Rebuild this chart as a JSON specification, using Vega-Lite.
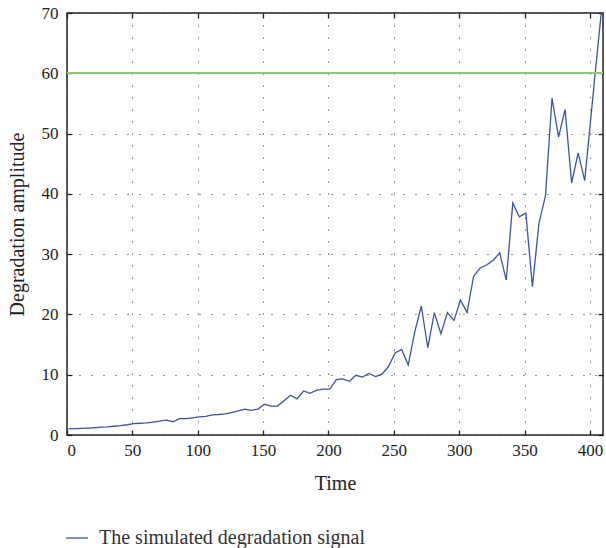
{
  "$schema": "https://vega.github.io/schema/vega-lite/v6.json",
  "autosize": {"type": "none"},
  "width": 536,
  "height": 422,
  "padding": {"left": 67, "top": 13, "right": 3, "bottom": 113},
  "background": "white",
  "config": {
    "view": {"stroke": "#222", "strokeWidth": 1.5},
    "font": "Liberation Serif",
    "axis": {
      "labelFont": "Liberation Serif",
      "titleFont": "Liberation Serif",
      "labelFontSize": 17,
      "titleFontSize": 20,
      "labelColor": "#222",
      "titleColor": "#222",
      "titleFontWeight": "normal",
      "domain": false,
      "tickColor": "#222",
      "tickWidth": 1.3,
      "tickSize": -5,
      "gridColor": "#333",
      "gridDash": [1, 11],
      "gridWidth": 1
    },
    "legend": {
      "labelFont": "Liberation Serif",
      "labelFontSize": 20,
      "labelColor": "#333",
      "labelLimit": 500
    }
  },
  "data": {
    "values": [
      {"t": 1, "v": 1.0}, {"t": 6, "v": 1.05}, {"t": 11, "v": 1.1}, {"t": 16, "v": 1.15},
      {"t": 21, "v": 1.2}, {"t": 26, "v": 1.3}, {"t": 31, "v": 1.35}, {"t": 36, "v": 1.45},
      {"t": 41, "v": 1.55}, {"t": 46, "v": 1.7}, {"t": 51, "v": 1.9}, {"t": 56, "v": 1.95},
      {"t": 61, "v": 2.0}, {"t": 66, "v": 2.15}, {"t": 71, "v": 2.3}, {"t": 76, "v": 2.45},
      {"t": 81, "v": 2.2}, {"t": 86, "v": 2.7}, {"t": 91, "v": 2.7}, {"t": 96, "v": 2.85},
      {"t": 101, "v": 3.0}, {"t": 106, "v": 3.1}, {"t": 111, "v": 3.35}, {"t": 116, "v": 3.4},
      {"t": 121, "v": 3.5}, {"t": 126, "v": 3.7}, {"t": 131, "v": 4.0}, {"t": 136, "v": 4.3},
      {"t": 141, "v": 4.1}, {"t": 146, "v": 4.3}, {"t": 151, "v": 5.1}, {"t": 156, "v": 4.8},
      {"t": 161, "v": 4.8}, {"t": 166, "v": 5.7}, {"t": 171, "v": 6.6}, {"t": 176, "v": 6.0},
      {"t": 181, "v": 7.3}, {"t": 186, "v": 6.9}, {"t": 191, "v": 7.45}, {"t": 196, "v": 7.6},
      {"t": 201, "v": 7.6}, {"t": 206, "v": 9.2}, {"t": 211, "v": 9.3}, {"t": 216, "v": 8.9},
      {"t": 221, "v": 9.9}, {"t": 226, "v": 9.6}, {"t": 231, "v": 10.2}, {"t": 236, "v": 9.7},
      {"t": 241, "v": 10.1}, {"t": 246, "v": 11.4}, {"t": 251, "v": 13.6}, {"t": 256, "v": 14.2},
      {"t": 261, "v": 11.6}, {"t": 266, "v": 17.1}, {"t": 271, "v": 21.4}, {"t": 276, "v": 14.5},
      {"t": 281, "v": 20.3}, {"t": 286, "v": 16.8}, {"t": 291, "v": 20.3}, {"t": 296, "v": 19.0},
      {"t": 301, "v": 22.4}, {"t": 306, "v": 20.3}, {"t": 311, "v": 26.3}, {"t": 316, "v": 27.7},
      {"t": 321, "v": 28.2}, {"t": 326, "v": 29.0}, {"t": 331, "v": 30.2}, {"t": 336, "v": 25.7},
      {"t": 341, "v": 38.5}, {"t": 346, "v": 36.2}, {"t": 351, "v": 36.8}, {"t": 356, "v": 24.6},
      {"t": 361, "v": 35.1}, {"t": 366, "v": 39.7}, {"t": 371, "v": 55.9}, {"t": 376, "v": 49.4},
      {"t": 381, "v": 54.0}, {"t": 386, "v": 41.8}, {"t": 391, "v": 46.8}, {"t": 396, "v": 42.2},
      {"t": 401, "v": 53.3}, {"t": 406, "v": 64.3}, {"t": 411, "v": 75.0}
    ]
  },
  "layer": [
    {
      "layer": [
        {
          "mark": {"type": "line", "clip": true, "strokeWidth": 1.3, "interpolate": "linear"},
          "encoding": {
            "x": {
              "field": "t", "type": "quantitative",
              "scale": {"domain": [0, 410], "nice": false, "zero": false},
              "axis": {"title": "Time", "values": [0, 50, 100, 150, 200, 250, 300, 350, 400], "labelPadding": 12, "titlePadding": 15}
            },
            "y": {
              "field": "v", "type": "quantitative",
              "scale": {"domain": [0, 70], "nice": false},
              "axis": {"title": "Degradation amplitude", "values": [0, 10, 20, 30, 40, 50, 60, 70], "labelPadding": 14, "titlePadding": 14}
            },
            "color": {
              "datum": "The simulated degradation signal",
              "scale": {"range": ["#3b54a4"]},
              "legend": {
                "title": null,
                "orient": "none",
                "legendX": -2,
                "legendY": 513,
                "symbolType": "stroke",
                "symbolSize": 484,
                "symbolStrokeWidth": 1.3,
                "labelOffset": 10
              }
            }
          }
        },
        {
          "mark": {"type": "rule", "color": "#8cc878", "strokeWidth": 1.3},
          "encoding": {"y": {"datum": 60}}
        }
      ]
    },
    {
      "mark": {"type": "line", "opacity": 0},
      "encoding": {
        "x": {
          "field": "t", "type": "quantitative",
          "scale": {"domain": [0, 410], "nice": false, "zero": false},
          "axis": {"orient": "top", "title": null, "labels": false, "grid": false, "values": [0, 50, 100, 150, 200, 250, 300, 350, 400]}
        },
        "y": {
          "field": "v", "type": "quantitative",
          "scale": {"domain": [0, 70], "nice": false},
          "axis": {"orient": "right", "title": null, "labels": false, "grid": false, "values": [0, 10, 20, 30, 40, 50, 60, 70]}
        }
      }
    }
  ],
  "resolve": {"scale": {"x": "independent", "y": "independent"}}
}
